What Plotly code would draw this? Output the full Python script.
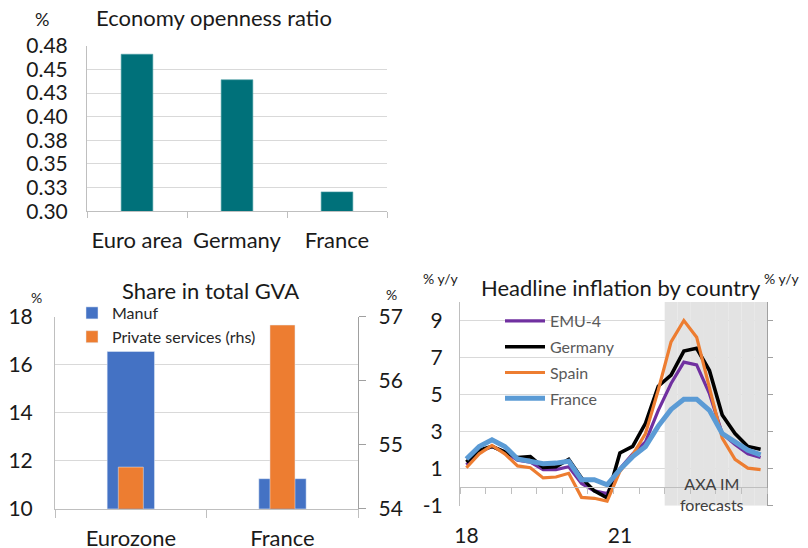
import plotly.graph_objects as go

W, H = 808, 548
OFF = 8  # page body margin
FW, FH = W - OFF, H - OFF

# --- Economy openness ratio
open_countries = ['Euro area', 'Germany', 'France']
open_ratio = [0.466, 0.439, 0.3205]
open_tickvals = [0.300, 0.325, 0.350, 0.375, 0.400, 0.425, 0.450, 0.475]
open_ticktext = ['0.30', '0.33', '0.35', '0.38', '0.40', '0.43', '0.45', '0.48']

# --- Share in total GVA
gva_regions = ['Eurozone', 'France']
gva_manuf = [16.55, 11.25]
gva_services = [54.65, 56.87]

# --- Headline inflation by country (quarterly, % y/y)
quarters = ['2018Q1', '2018Q2', '2018Q3', '2018Q4', '2019Q1', '2019Q2', '2019Q3', '2019Q4',
            '2020Q1', '2020Q2', '2020Q3', '2020Q4', '2021Q1', '2021Q2', '2021Q3', '2021Q4',
            '2022Q1', '2022Q2', '2022Q3', '2022Q4', '2023Q1', '2023Q2', '2023Q3', '2023Q4']
emu4 = [1.2, 1.9, 2.2, 1.9, 1.45, 1.35, 0.95, 0.95, 1.1, 0.2, -0.2, -0.35,
        1.0, 1.8, 2.45, 4.15, 5.6, 6.75, 6.6, 5.05, 2.9, 2.3, 1.8, 1.6]
germany = [1.35, 2.0, 2.2, 1.9, 1.6, 1.65, 1.07, 1.1, 1.5, 0.5, -0.2, -0.58,
           1.85, 2.2, 3.45, 5.45, 6.05, 7.35, 7.5, 6.3, 3.9, 2.9, 2.2, 2.05]
spain = [1.05, 1.8, 2.25, 1.8, 1.15, 1.05, 0.5, 0.55, 0.75, -0.55, -0.6, -0.75,
         0.85, 1.75, 2.9, 5.25, 7.85, 9.0, 8.1, 5.4, 2.65, 1.5, 1.03, 0.95]
france = [1.52, 2.2, 2.56, 2.2, 1.52, 1.4, 1.27, 1.3, 1.4, 0.4, 0.4, 0.13,
          0.95, 1.65, 2.2, 3.3, 4.2, 4.75, 4.75, 4.15, 2.9, 2.45, 2.0, 1.75]
forecast_start = '2022Q1'
infl_ticks = [-1, 1, 3, 5, 7, 9]
infl_ticktext = ['-1', '1', '3', '5', '7', '9']
year_labels = {'2018Q1': '18', '2021Q1': '21'}

FONT = 'Lato'
GRID = '#D9D9D9'
AXIS = '#BFBFBF'
AXIS_R = '#A0A0A0'
TXT = '#1a1a1a'


def px_x(x):
    return (x - OFF) / FW


def px_y(y):
    return 1 - (y - OFF) / FH


fig = go.Figure()

# Chart 1
fig.add_trace(go.Bar(x=open_countries, y=open_ratio, marker_color='#00717A',
                     marker_line=dict(color='#4F9FA6', width=0.6),
                     width=0.317, xaxis='x', yaxis='y', showlegend=False))

# Chart 2
fig.add_trace(go.Bar(x=gva_regions, y=gva_manuf, name='Manuf', marker_color='#4472C4',
                     width=0.312, offset=-0.156, xaxis='x2', yaxis='y2', legend='legend'))
fig.add_trace(go.Bar(x=gva_regions, y=gva_services, name='Private services (rhs)',
                     marker_color='#ED7D31', width=0.165, offset=-0.0825,
                     xaxis='x2', yaxis='y3', legend='legend'))

# Chart 3: forecast shading
fc = quarters[quarters.index(forecast_start):]
fig.add_trace(go.Bar(x=fc, y=[11] * len(fc), base=-1, width=1, marker_color='#E3E3E3',
                     marker_line_width=0, xaxis='x3', yaxis='y4', showlegend=False,
                     hoverinfo='skip'))
series = [('EMU-4', emu4, '#7030A0', 3.2), ('Germany', germany, '#000000', 3.6),
          ('Spain', spain, '#ED7D31', 3.2), ('France', france, '#5B9BD5', 5)]
for name, vals, col, w in series:
    fig.add_trace(go.Scatter(x=quarters, y=vals, mode='lines', name=name,
                             line=dict(color=col, width=w), xaxis='x3', yaxis='y4',
                             legend='legend2', legendgroup=name))

cat_idx = {q: i for i, q in enumerate(quarters)}

# empty traces so the right inflation axis and the year-label axis are drawn
fig.add_trace(go.Scatter(x=[quarters[0]], y=[None], xaxis='x3', yaxis='y5',
                         showlegend=False, hoverinfo='skip'))
fig.add_trace(go.Scatter(x=[cat_idx[q] for q in year_labels], y=[None, None], xaxis='x4',
                         yaxis='y4', showlegend=False, hoverinfo='skip'))

y0_frac = px_y(505.7) + (0 - (-1)) / 11 * (px_y(302) - px_y(505.7))

fig.update_layout(
    width=FW, height=FH,
    margin=dict(l=0, r=0, t=0, b=0, autoexpand=False),
    paper_bgcolor='white', plot_bgcolor='rgba(0,0,0,0)',
    font=dict(family=FONT, color=TXT, size=20),
    barmode='overlay',
    # chart 1
    xaxis=dict(domain=[px_x(87), px_x(387)], anchor='y', showline=True, linecolor=AXIS,
               ticks='outside', tickson='boundaries', ticklen=6, tickcolor=AXIS,
               tickangle=0, tickfont=dict(size=22), ticklabelstandoff=9),
    yaxis=dict(domain=[px_y(211.3), px_y(45.7)], anchor='x', range=[0.3, 0.475],
               tickvals=open_tickvals, ticktext=open_ticktext, showline=True, linecolor=AXIS,
               gridcolor=GRID, tickfont=dict(size=21), ticklabelstandoff=14, zeroline=False),
    # chart 2
    xaxis2=dict(domain=[px_x(55), px_x(358.3)], anchor='y2', showline=True, linecolor=AXIS,
                ticks='outside', tickson='boundaries', ticklen=8, tickcolor=AXIS,
                tickangle=0, tickfont=dict(size=22), ticklabelstandoff=10),
    yaxis2=dict(domain=[px_y(508.7), px_y(316.7)], anchor='x2', range=[10, 18], dtick=2,
                showline=True, linecolor=AXIS, gridcolor=GRID, tickfont=dict(size=21),
                ticklabelstandoff=17, zeroline=False),
    yaxis3=dict(overlaying='y2', anchor='x2', side='right', range=[54, 57], dtick=1,
                showline=True, linecolor=AXIS_R, ticks='outside', ticklen=7, tickcolor=AXIS_R,
                showgrid=False, zeroline=False, tickfont=dict(size=21), ticklabelstandoff=8),
    # chart 3
    xaxis3=dict(domain=[px_x(460), px_x(767)], anchor='free', position=y0_frac,
                type='category', categoryarray=quarters, range=[-0.5, len(quarters) - 0.5],
                showline=True, linecolor=AXIS, ticks='outside', tickson='boundaries',
                ticklen=6, tickcolor=AXIS, showticklabels=False, showgrid=False),
    xaxis4=dict(domain=[px_x(460), px_x(767)], anchor='y4', overlaying='x3',
                range=[-0.5, len(quarters) - 0.5],
                tickvals=[cat_idx[q] for q in year_labels],
                ticktext=list(year_labels.values()), showline=False, showgrid=False,
                zeroline=False, tickfont=dict(size=21), ticklabelstandoff=15),
    yaxis4=dict(domain=[px_y(505.7), px_y(302)], anchor='x3', range=[-1, 10],
                tickvals=infl_ticks, ticktext=infl_ticktext, showline=True, linecolor=AXIS,
                gridcolor=GRID, zeroline=False, tickfont=dict(size=21), ticklabelstandoff=12),
    yaxis5=dict(overlaying='y4', anchor='x3', side='right', range=[-1, 10],
                tickvals=infl_ticks, ticktext=infl_ticktext, showline=True, linecolor=AXIS_R,
                ticks='outside', ticklen=5, tickcolor=AXIS_R, showgrid=False, zeroline=False,
                tickfont=dict(size=21), ticklabelstandoff=28),
    legend=dict(x=px_x(72), y=px_y(296), xanchor='left', yanchor='top',
                bgcolor='rgba(0,0,0,0)', font=dict(size=16, color='#262626'),
                itemwidth=30),
    legend2=dict(x=px_x(500), y=px_y(304), xanchor='left', yanchor='top',
                 bgcolor='rgba(0,0,0,0)', font=dict(size=16, color='#595959'),
                 itemwidth=40, tracegroupgap=2),
)

notes = [
    dict(text='%', x=px_x(42), y=px_y(19), size=18, xanchor='center'),
    dict(text='Economy openness ratio', x=px_x(94), y=px_y(18), size=22, xanchor='left'),
    dict(text='%', x=px_x(37), y=px_y(297), size=14, xanchor='center'),
    dict(text='Share in total GVA', x=px_x(211), y=px_y(290), size=22, xanchor='center'),
    dict(text='%', x=px_x(391), y=px_y(294), size=14, xanchor='center'),
    dict(text='% y/y', x=px_x(440), y=px_y(278), size=14, xanchor='center'),
    dict(text='Headline inflation by country', x=px_x(621), y=px_y(287), size=22,
         xanchor='center'),
    dict(text='% y/y', x=px_x(781), y=px_y(278), size=14, xanchor='center'),
]
for n in notes:
    fig.add_annotation(text=n['text'], x=n['x'], y=n['y'], xref='paper', yref='paper',
                       xanchor=n['xanchor'], yanchor='middle', showarrow=False,
                       font=dict(size=n['size'], color=TXT, family=FONT))
fig.add_annotation(text='AXA IM<br>forecasts', x=px_x(712), y=px_y(494), xref='paper',
                   yref='paper', showarrow=False, font=dict(size=16, color='#404040'),
                   xanchor='center', yanchor='middle')

fig.write_html('out.html')
